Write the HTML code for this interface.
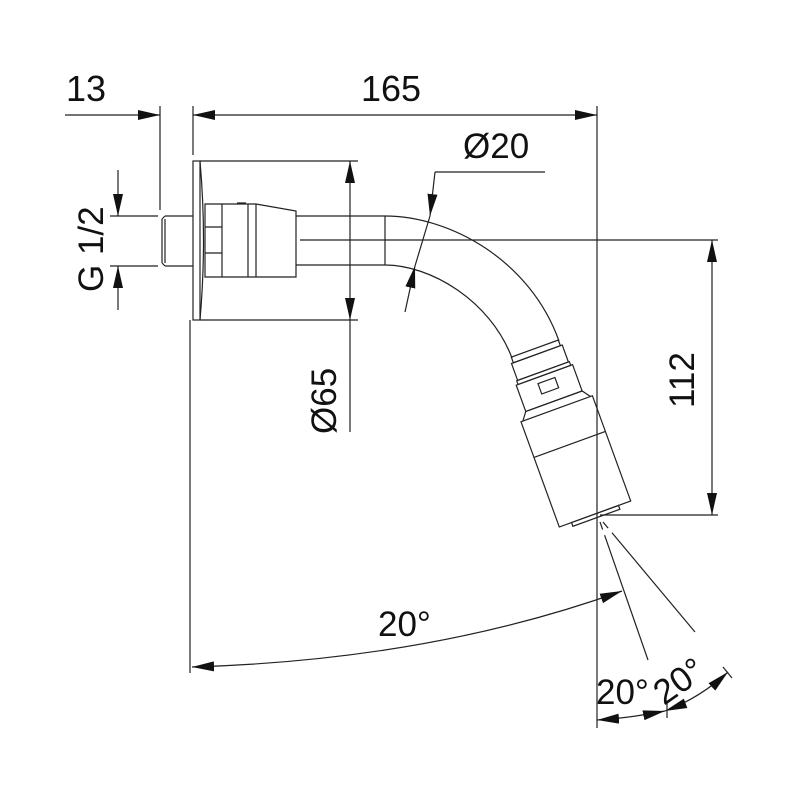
<!DOCTYPE html>
<html><head><style>body{margin:0;background:#fff}svg{display:block}text{font-family:"Liberation Sans",sans-serif;fill:#111}</style></head>
<body>
<svg width="800" height="800" viewBox="0 0 800 800" xmlns="http://www.w3.org/2000/svg" stroke="#222" stroke-width="1.2" fill="none">
<defs>
<marker id="a" viewBox="0 0 22 10" refX="22" refY="5" markerWidth="22" markerHeight="10" markerUnits="userSpaceOnUse" orient="auto-start-reverse"><path d="M0,0L22,5L0,10Z" fill="#111" stroke="none"/></marker>
</defs>
<line x1="65" y1="115" x2="160" y2="115" marker-end="url(#a)"/>
<line x1="193" y1="115" x2="597" y2="115" marker-start="url(#a)" marker-end="url(#a)"/>
<line x1="160" y1="106" x2="160" y2="210"/>
<line x1="193" y1="106" x2="193" y2="155"/>
<line x1="597" y1="106" x2="597" y2="700"/>
<text x="66" y="101" font-size="36" stroke="none">13</text>
<text x="361" y="101" font-size="36" stroke="none">165</text>
<line x1="110" y1="216" x2="158" y2="216"/>
<line x1="110" y1="266" x2="158" y2="266"/>
<line x1="118" y1="170" x2="118" y2="216" marker-end="url(#a)"/>
<line x1="118" y1="310" x2="118" y2="266" marker-end="url(#a)"/>
<text transform="translate(103,292) rotate(-90)" font-size="35" stroke="none">G 1/2</text>
<path d="M165,216H193M165,266H193M162,219V263M165,216L162,219M165,266L162,263M165,219V263"/>
<rect x="193" y="161" width="7" height="159"/>
<path d="M200,161Q207,240 200,320"/>
<line x1="200" y1="161" x2="358" y2="161"/>
<line x1="200" y1="320" x2="358" y2="320"/>
<line x1="350" y1="240" x2="350" y2="161" marker-end="url(#a)"/>
<line x1="350" y1="240" x2="350" y2="320" marker-end="url(#a)"/>
<line x1="350" y1="320" x2="350" y2="432"/>
<text transform="translate(336,434) rotate(-90)" font-size="35" stroke="none">Ø65</text>
<path d="M205,204H256L296,211V277L256,277H205Z"/>
<path d="M222,204V277M248,204V277M256,204V277M205,227H222M205,253H222M237,203H246"/>
<path d="M296,216H385C450,216 530,260 559,341"/>
<path d="M296,265H385C430,265 490,300 512,358"/>
<line x1="385" y1="216" x2="385" y2="265"/>
<line x1="300" y1="240" x2="718" y2="240"/>
<line x1="435" y1="172" x2="545" y2="172"/>
<line x1="435" y1="172" x2="430" y2="216" marker-end="url(#a)"/>
<line x1="405" y1="312" x2="415" y2="266" marker-end="url(#a)"/>
<line x1="430" y1="216" x2="415" y2="266"/>
<text x="463" y="158" font-size="35" stroke="none">Ø20</text>
<g transform="translate(595,514) rotate(-20)">
<rect x="-38" y="-112" width="76" height="112"/>
<line x1="-38" y1="-74" x2="38" y2="-74"/>
<rect x="-25" y="0" width="50" height="4"/>
<path d="M-36,-112L-30,-120H30L36,-112"/>
<rect x="-30" y="-148" width="60" height="28"/>
<rect x="-9" y="-142" width="18" height="11"/>
<rect x="-28" y="-152" width="56" height="4"/>
<rect x="-27" y="-170" width="54" height="18"/>
<rect x="-25" y="-176" width="50" height="6"/>
</g>
<line x1="600" y1="515" x2="718" y2="515"/>
<line x1="712" y1="378" x2="712" y2="240" marker-end="url(#a)"/>
<line x1="712" y1="378" x2="712" y2="515" marker-end="url(#a)"/>
<text transform="translate(694,408) rotate(-90)" font-size="35" stroke="none">112</text>
<line x1="600" y1="522" x2="648" y2="660" stroke-dasharray="8,6 200,0"/>
<line x1="603" y1="522" x2="695" y2="632" stroke-dasharray="8,6 200,0"/>
<line x1="190" y1="320" x2="190" y2="673"/>
<path d="M192,667Q430,660 622,591" marker-start="url(#a)" marker-end="url(#a)"/>
<text x="378" y="636" font-size="35" stroke="none">20°</text>
<line x1="597" y1="700" x2="597" y2="728"/>
<path d="M597,720Q630,718 665,711" marker-start="url(#a)" marker-end="url(#a)"/>
<path d="M665,711Q700,698 728,672" marker-start="url(#a)" marker-end="url(#a)"/>
<line x1="667" y1="703" x2="667" y2="718"/>
<line x1="723" y1="667" x2="732" y2="678"/>
<text x="596" y="704" font-size="35" stroke="none">20°</text>
<text transform="translate(664,706) rotate(-35)" font-size="35" stroke="none">20°</text>
</svg>
</body></html>
